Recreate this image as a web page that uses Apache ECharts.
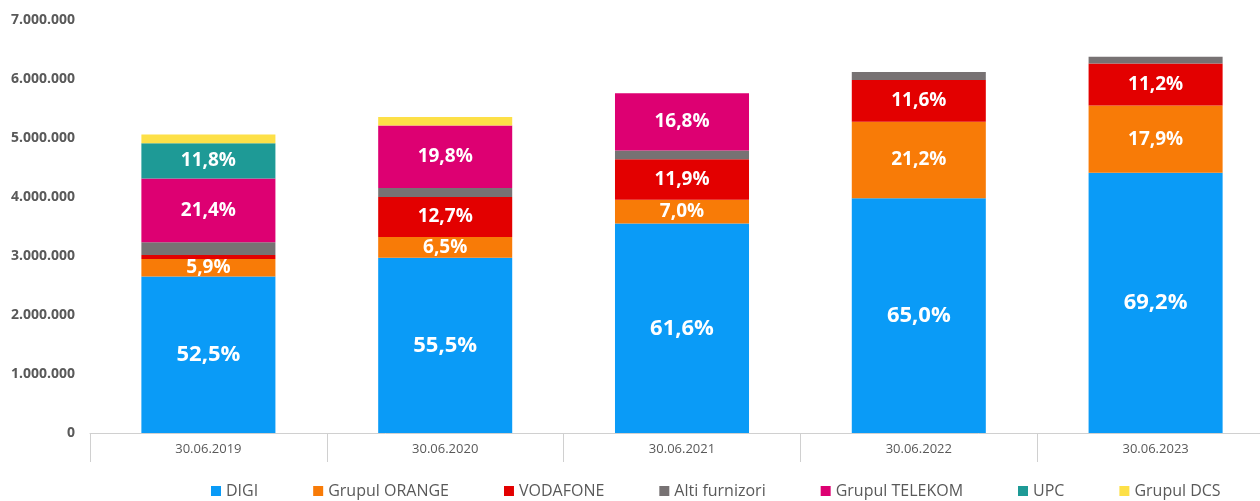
<!DOCTYPE html>
<html><head><meta charset="utf-8">
<script src="https://cdn.jsdelivr.net/npm/echarts@6/dist/echarts.min.js"></script>
<style>html,body{margin:0;padding:0;background:#fff;overflow:hidden;width:1260px;height:501px}#c{width:1274px;height:501px}</style>
</head><body><div id="c"></div>
<script>
const categories = ['30.06.2019','30.06.2020','30.06.2021','30.06.2022','30.06.2023'];
const digi     = [2651000, 2972000, 3550000, 3978000, 4410000];
const orange   = [298000, 348000, 403000, 1297000, 1140000];
const vodafone = [70000, 680000, 686000, 710000, 713000];
const alti     = [215000, 153000, 150000, 135000, 115000];
const telekom  = [1081000, 1060000, 968000, 0, 0];
const upc      = [596000, 0, 0, 0, 0];
const dcs      = [150000, 143000, 0, 0, 0];

const digiLbl     = ['52,5%','55,5%','61,6%','65,0%','69,2%'];
const orangeLbl   = ['5,9%','6,5%','7,0%','21,2%','17,9%'];
const vodafoneLbl = ['','12,7%','11,9%','11,6%','11,2%'];
const telekomLbl  = ['21,4%','19,8%','16,8%','',''];
const upcLbl      = ['11,8%','','','',''];

const FONT = '"Open Sans", sans-serif';
function mk(name, data, color, lbls, size) {
  return {
    name, type: 'bar', stack: 'total', barWidth: '56.6%', data,
    itemStyle: { color },
    emphasis: { disabled: true },
    label: lbls ? {
      show: true, position: 'inside', color: '#fff', fontWeight: 'bold',
      fontFamily: FONT, fontSize: size || 19,
      formatter: p => lbls[p.dataIndex] || ''
    } : { show: false }
  };
}
const chart = echarts.init(document.getElementById('c'));
chart.setOption({
  animation: false,
  grid: { left: 90, top: 20, right: 0, bottom: 68, containLabel: false },
  legend: {
    bottom: -3, left: 206, itemWidth: 10, itemHeight: 10, itemGap: 55,
    icon: 'rect',
    textStyle: { color: '#595959', fontSize: 16, fontFamily: FONT },
    data: ['DIGI','Grupul ORANGE','VODAFONE','Alti furnizori','Grupul TELEKOM','UPC','Grupul DCS']
  },
  xAxis: {
    type: 'category', data: categories,
    axisLine: { lineStyle: { color: '#d0d0d0' } },
    axisTick: { show: true, length: 29, interval: 0, lineStyle: { color: '#d0d0d0' } },
    axisLabel: { color: '#595959', fontSize: 13, fontFamily: FONT, margin: 10 }
  },
  yAxis: {
    type: 'value', min: 0, max: 7000000, interval: 1000000,
    splitLine: { show: false }, axisLine: { show: false }, axisTick: { show: false },
    axisLabel: {
      color: '#595959', fontSize: 14, fontWeight: 'bold', fontFamily: FONT, margin: 15,
      formatter: v => v === 0 ? '0' : String(v).replace(/\B(?=(\d{3})+(?!\d))/g, '.')
    }
  },
  series: [
    mk('DIGI', digi, '#0A9BF7', digiLbl, 22),
    mk('Grupul ORANGE', orange, '#F87B07', orangeLbl, 19),
    mk('VODAFONE', vodafone, '#E30000', vodafoneLbl, 19),
    mk('Alti furnizori', alti, '#777273', null),
    mk('Grupul TELEKOM', telekom, '#DD0072', telekomLbl, 19),
    mk('UPC', upc, '#1E9A96', upcLbl, 19),
    mk('Grupul DCS', dcs, '#FDE047', null)
  ]
});
</script></body></html>
